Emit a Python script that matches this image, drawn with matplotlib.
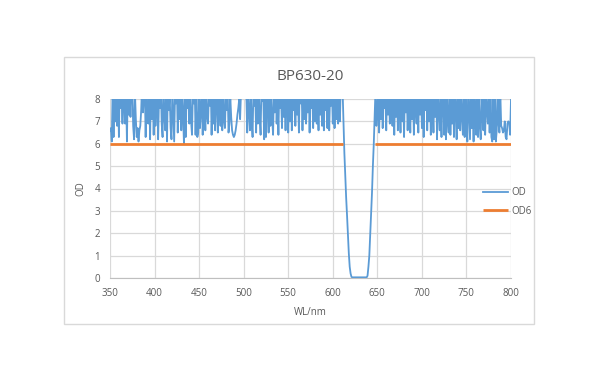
import numpy as np
import matplotlib
matplotlib.use("Agg")
import matplotlib.pyplot as plt
from matplotlib.patches import Rectangle

plt.rcParams['font.family'] = ['Open Sans', 'DejaVu Sans']

title = "BP630-20"
x_label = "WL/nm"
y_label = "OD"
series_names = ["OD", "OD6"]
x_ticks = [350, 400, 450, 500, 550, 600, 650, 700, 750, 800]
y_ticks = [0, 1, 2, 3, 4, 5, 6, 7, 8]

wl_start = 350  # nm, 1 nm step

# OD, 350-609 nm
od_left = [
    6.6, 6.7, 6.1, 8.6, 6.3, 8.4, 7.0, 8.8, 6.8, 8.5, 6.3, 8.9, 7.6, 8.3, 6.9, 8.7, 7.7, 6.9, 8.4, 6.1,
    8.6, 7.3, 8.2, 7.2, 8.9, 8.5, 6.8, 6.2, 8.3, 7.1, 6.3, 6.7, 6.1, 6.6, 6.8, 7.5, 8.7, 7.4, 8.2, 8.6,
    6.3, 8.5, 7.0, 6.9, 8.4, 6.2, 8.8, 7.1, 8.3, 6.4, 8.6, 6.8, 7.8, 8.5, 6.2, 8.1, 7.6, 8.8, 6.9, 6.3,
    8.7, 7.2, 6.6, 8.4, 6.1, 8.9, 7.5, 8.2, 6.7, 6.2, 8.6, 7.4, 6.1, 8.3, 7.8, 8.7, 6.5, 8.1, 7.1, 8.9,
    6.6, 8.2, 7.3, 6.0, 8.8, 6.3, 8.5, 7.6, 8.1, 6.9, 8.6, 7.0, 6.4, 8.3, 7.8, 8.7, 6.4, 8.2, 6.3, 6.5,
    8.4, 6.7, 7.4, 8.8, 6.4, 8.1, 7.9, 6.6, 8.5, 7.2, 6.9, 8.3, 7.7, 8.9, 6.4, 8.2, 6.9, 8.6, 6.6, 7.9,
    8.4, 6.5, 8.7, 7.5, 6.8, 8.2, 6.6, 8.9, 7.0, 6.7, 8.3, 7.5, 8.6, 6.5, 6.9, 8.1, 7.2, 6.6, 6.4, 6.3,
    6.4, 6.6, 6.9, 7.3, 7.6, 8.0, 7.1, 8.3, 8.5, 8.6, 8.7, 8.5, 8.4, 8.2, 6.5, 8.6, 7.4, 6.6, 8.3, 7.0,
    6.3, 8.5, 7.7, 8.1, 6.5, 8.8, 6.9, 8.3, 7.2, 6.4, 8.6, 7.9, 8.2, 6.2, 8.7, 6.3, 7.8, 8.4, 6.5, 8.9,
    6.8, 8.2, 7.1, 6.4, 8.5, 7.4, 8.8, 6.9, 8.3, 6.4, 8.6, 7.6, 8.1, 6.7, 8.9, 7.2, 8.4, 6.6, 8.7, 7.9,
    6.5, 8.3, 7.0, 8.6, 6.6, 8.1, 7.5, 8.8, 6.8, 8.4, 7.3, 8.2, 6.5, 8.9, 7.8, 8.5, 6.6, 8.3, 7.1, 8.7,
    6.9, 8.1, 7.4, 8.6, 6.5, 8.8, 7.6, 8.2, 6.7, 8.5, 7.0, 8.9, 6.9, 8.3, 6.6, 8.7, 7.3, 8.1, 6.8, 8.4,
    6.6, 8.6, 7.5, 8.2, 6.7, 8.9, 6.6, 8.3, 7.7, 8.5, 6.9, 8.8, 6.7, 8.4, 7.1, 8.6, 6.9, 8.1, 7.0, 8.7,
]

# OD, 610-647 nm (pass band)
od_band = [
    8.5, 8.4, 7.0, 5.6, 4.6, 3.6, 2.8, 1.9, 1.1, 0.5, 0.2, 0.05,
    0.03, 0.03, 0.03, 0.03, 0.03, 0.03, 0.03, 0.03, 0.03, 0.03, 0.03, 0.03, 0.03, 0.03, 0.03, 0.03, 0.03,
    0.1, 0.5, 1.0, 1.9, 2.7, 3.8, 5.0, 6.0, 7.3,
]

# OD, 648-800 nm
od_right = [
    8.5, 6.8, 7.4, 8.7, 6.5, 8.2, 7.1, 8.9, 6.7, 8.4, 7.6, 8.1, 6.6, 8.6, 7.3, 8.3, 6.9, 8.8, 7.5, 6.8,
    8.2, 6.4, 8.6, 7.2, 8.9, 6.6, 8.3, 7.7, 6.5, 8.5, 7.0, 8.1, 6.3, 8.7, 7.4, 8.4, 6.6, 8.2, 7.9, 6.5,
    8.8, 7.1, 8.3, 6.4, 8.6, 7.6, 6.9, 8.2, 6.5, 8.9, 7.3, 8.4, 6.7, 8.1, 6.3, 8.7, 7.5, 8.5, 6.6, 8.2,
    7.0, 8.8, 6.4, 8.3, 7.7, 6.5, 8.6, 7.2, 8.9, 6.2, 8.4, 7.4, 6.6, 8.1, 6.3, 8.7, 7.8, 6.4, 8.5, 6.2,
    8.3, 7.1, 6.5, 8.8, 6.4, 8.2, 6.9, 8.6, 6.3, 8.4, 7.5, 6.2, 8.9, 6.7, 8.1, 6.6, 8.5, 7.2, 6.4, 8.7,
    6.3, 8.3, 6.9, 6.1, 8.6, 7.4, 6.2, 8.8, 6.7, 8.2, 6.1, 8.5, 7.0, 6.4, 8.9, 6.3, 8.4, 6.8, 6.2, 8.1,
    7.2, 6.6, 8.7, 6.4, 8.3, 7.5, 6.9, 8.6, 6.5, 8.2, 6.3, 6.1, 8.8, 6.2, 8.4, 6.1, 6.6, 8.5, 6.9, 6.5,
    8.3, 6.8, 6.7, 6.5, 6.6, 7.0, 6.3, 6.2, 6.9, 7.0, 6.9, 6.4, 8.0,
]

# OD6 reference line segments (nm)
od6_level = 6
od6_seg1 = [350, 612]
od6_seg2 = [647, 800]

od = np.array(od_left + od_band + od_right)
wl = wl_start + np.arange(len(od))

W, H = 600, 383
fig = plt.figure(figsize=(6, 3.83), dpi=100)

# chart border
fig.patches.append(Rectangle((64 / W, 1 - 324 / H), 470 / W, 267 / H,
                             transform=fig.transFigure, fill=False,
                             edgecolor='#D9D9D9', linewidth=1.0))

ax = fig.add_axes([110 / W, 1 - 278 / H, 401 / W, 179 / H])

blue = '#5B9BD5'
orange = '#ED7D31'
ax.plot(wl, od, color=blue, linewidth=1.3, label=series_names[0], zorder=3)
ax.plot(od6_seg1, [od6_level, od6_level], color=orange, linewidth=2.0,
        label=series_names[1], zorder=4, solid_capstyle='butt')
ax.plot(od6_seg2, [od6_level, od6_level], color=orange, linewidth=2.0,
        zorder=4, solid_capstyle='butt')

ax.set_xlim(350, 800)
ax.set_ylim(0, 8)
ax.set_xticks(x_ticks)
ax.set_yticks(y_ticks)
ax.grid(True, color='#D9D9D9', linewidth=0.9)
ax.set_axisbelow(True)
for s in ['top', 'right', 'left']:
    ax.spines[s].set_visible(False)
ax.spines['bottom'].set_color('#BFBFBF')
ax.tick_params(length=0, labelsize=7, labelcolor='#595959', pad=7)

ax.set_title(title, fontsize=11, color='#595959', pad=14)
ax.set_xlabel(x_label, fontsize=7, color='#595959', labelpad=6)
ax.set_ylabel(y_label, fontsize=7, color='#595959', labelpad=6)

handles, labels = ax.get_legend_handles_labels()
fig.legend(handles, labels, loc='center left',
           bbox_to_anchor=(474 / W, 1 - 202 / H), frameon=False,
           fontsize=7, labelcolor='#595959', handlelength=2.6,
           handletextpad=0.3, labelspacing=0.75)

fig.savefig('out.png', dpi=100)
